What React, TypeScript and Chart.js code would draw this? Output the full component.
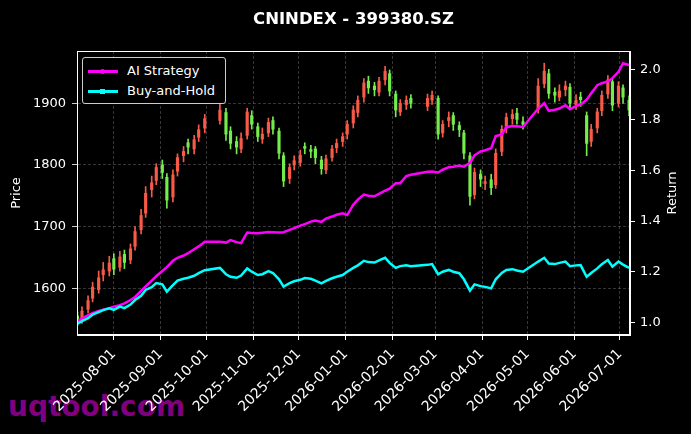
import React, { useEffect, useRef } from "react";
import { Chart, registerables } from "chart.js";

Chart.register(...registerables);

// trading days sampled (Tue / Fri), holidays left out
const dates = [
  "2025-07-08", "2025-07-11", "2025-07-15", "2025-07-18", "2025-07-22", "2025-07-25", "2025-07-29",
  "2025-08-01", "2025-08-05", "2025-08-08", "2025-08-12", "2025-08-15", "2025-08-19", "2025-08-22", "2025-08-26", "2025-08-29",
  "2025-09-02", "2025-09-05", "2025-09-09", "2025-09-12", "2025-09-16", "2025-09-19", "2025-09-23", "2025-09-26", "2025-09-30",
  "2025-10-10", "2025-10-14", "2025-10-17", "2025-10-21", "2025-10-24", "2025-10-28", "2025-10-31",
  "2025-11-04", "2025-11-07", "2025-11-11", "2025-11-14", "2025-11-18", "2025-11-21", "2025-11-25", "2025-11-28",
  "2025-12-02", "2025-12-05", "2025-12-09", "2025-12-12", "2025-12-16", "2025-12-19", "2025-12-23", "2025-12-26", "2025-12-30",
  "2026-01-02", "2026-01-06", "2026-01-09", "2026-01-13", "2026-01-16", "2026-01-20", "2026-01-23", "2026-01-27", "2026-01-30",
  "2026-02-03", "2026-02-06", "2026-02-10", "2026-02-13", "2026-02-24", "2026-02-27",
  "2026-03-03", "2026-03-06", "2026-03-10", "2026-03-13", "2026-03-17", "2026-03-20", "2026-03-24", "2026-03-27", "2026-03-31",
  "2026-04-03", "2026-04-07", "2026-04-10", "2026-04-14", "2026-04-17", "2026-04-21", "2026-04-24", "2026-04-28",
  "2026-05-08", "2026-05-12", "2026-05-15", "2026-05-19", "2026-05-22", "2026-05-26", "2026-05-29",
  "2026-06-02", "2026-06-05", "2026-06-09", "2026-06-12", "2026-06-16", "2026-06-19", "2026-06-23", "2026-06-26", "2026-06-30",
  "2026-07-03", "2026-07-07",
];

const opens = [
  1555, 1548, 1566, 1584, 1598, 1622, 1628, 1648, 1634, 1655,
  1646, 1668, 1695, 1722, 1760, 1775, 1800, 1780, 1748, 1790,
  1815, 1836, 1826, 1845, 1860, 1872, 1885, 1855, 1838, 1826,
  1848, 1880, 1862, 1842, 1852, 1872, 1855, 1815, 1778, 1800,
  1804, 1830, 1825, 1826, 1808, 1792, 1812, 1828, 1838, 1850,
  1868, 1885, 1910, 1936, 1928, 1918, 1938, 1948, 1915, 1886,
  1898, 1908, 1895, 1905, 1908, 1852, 1872, 1880, 1864, 1852,
  1815, 1752, 1785, 1770, 1776, 1768, 1822, 1860, 1875, 1884,
  1870, 1890, 1932, 1948, 1918, 1910, 1922, 1926, 1898, 1910,
  1880, 1838, 1860, 1888, 1915, 1935, 1900, 1925, 1905,
];
const highs = [
  1562, 1570, 1588, 1610, 1628, 1642, 1652, 1656, 1660, 1662,
  1672, 1700, 1728, 1765, 1782, 1802, 1808, 1786, 1792, 1818,
  1830, 1842, 1848, 1865, 1882, 1902, 1892, 1862, 1846, 1852,
  1892, 1888, 1868, 1860, 1876, 1878, 1860, 1820, 1802, 1815,
  1824, 1836, 1832, 1830, 1814, 1816, 1832, 1842, 1852, 1872,
  1896, 1912, 1940, 1944, 1934, 1942, 1960, 1954, 1920, 1906,
  1912, 1914, 1915, 1920, 1912, 1872, 1886, 1885, 1870, 1856,
  1820, 1795, 1792, 1782, 1785, 1826, 1864, 1884, 1890, 1892,
  1878, 1940, 1965, 1955, 1925, 1930, 1936, 1932, 1914, 1918,
  1886, 1866, 1892, 1920, 1945, 1940, 1935, 1930, 1912,
];
const lows = [
  1540, 1543, 1560, 1578, 1592, 1612, 1620, 1622, 1628, 1632,
  1640, 1662, 1688, 1715, 1748, 1768, 1778, 1730, 1740, 1782,
  1805, 1818, 1818, 1838, 1852, 1866, 1840, 1826, 1818, 1820,
  1842, 1858, 1838, 1835, 1846, 1850, 1810, 1765, 1770, 1792,
  1798, 1818, 1812, 1802, 1785, 1786, 1806, 1820, 1830, 1842,
  1860, 1878, 1902, 1916, 1912, 1912, 1930, 1912, 1878, 1880,
  1890, 1892, 1888, 1898, 1842, 1845, 1862, 1856, 1846, 1810,
  1735, 1745, 1765, 1760, 1752, 1762, 1815, 1852, 1866, 1866,
  1858, 1884, 1925, 1908, 1902, 1904, 1912, 1890, 1890, 1895,
  1815, 1830, 1852, 1880, 1908, 1888, 1894, 1900, 1880,
];
const closes = [
  1547, 1563, 1580, 1602, 1617, 1630, 1641, 1631, 1651, 1642,
  1664, 1692, 1718, 1754, 1771, 1796, 1788, 1743, 1784, 1812,
  1822, 1829, 1841, 1857, 1875, 1889, 1850, 1835, 1829, 1843,
  1886, 1866, 1846, 1850, 1869, 1858, 1819, 1774, 1796, 1807,
  1816, 1827, 1822, 1812, 1794, 1810, 1826, 1835, 1846, 1866,
  1889, 1905, 1933, 1925, 1922, 1936, 1952, 1920, 1889, 1900,
  1905, 1900, 1908, 1913, 1850, 1866, 1877, 1866, 1857, 1819,
  1749, 1788, 1777, 1773, 1763, 1819, 1858, 1877, 1882, 1874,
  1866, 1928, 1952, 1916, 1913, 1920, 1928, 1900, 1905, 1906,
  1835, 1858, 1886, 1913, 1938, 1897, 1928, 1910, 1889,
];

const aiStrategy = [
  1.005, 1.015, 1.028, 1.036, 1.045, 1.05, 1.056, 1.062, 1.068, 1.075,
  1.088, 1.1, 1.124, 1.142, 1.165, 1.182, 1.203, 1.218, 1.243, 1.255,
  1.264, 1.273, 1.289, 1.3, 1.318, 1.318, 1.315, 1.325, 1.317, 1.313,
  1.355, 1.353, 1.352, 1.354, 1.357, 1.356, 1.355, 1.356, 1.365, 1.372,
  1.382, 1.388, 1.398, 1.402, 1.397, 1.41, 1.418, 1.425, 1.431, 1.424,
  1.465, 1.485, 1.505, 1.5, 1.498, 1.508, 1.52, 1.528, 1.55, 1.55,
  1.578, 1.583, 1.595, 1.596, 1.592, 1.603, 1.613, 1.615, 1.62, 1.615,
  1.63, 1.66, 1.675, 1.68, 1.688, 1.736, 1.742, 1.771, 1.776, 1.775,
  1.772, 1.845, 1.866, 1.836, 1.84, 1.845, 1.858, 1.842, 1.855, 1.86,
  1.88, 1.905, 1.937, 1.945, 1.952, 1.965, 1.99, 2.024, 2.017,
];
const buyHold = [
  0.995, 1.005, 1.016, 1.03, 1.04, 1.048, 1.055, 1.049, 1.062, 1.056,
  1.07, 1.088, 1.105, 1.128, 1.139, 1.155, 1.15, 1.121, 1.147, 1.165,
  1.172, 1.176, 1.184, 1.194, 1.206, 1.215, 1.19, 1.18, 1.176, 1.185,
  1.213, 1.2, 1.187, 1.19, 1.202, 1.195, 1.17, 1.141, 1.155, 1.162,
  1.168, 1.175, 1.172, 1.165, 1.154, 1.164, 1.174, 1.18, 1.187, 1.2,
  1.215, 1.225, 1.243, 1.238, 1.236, 1.245, 1.255, 1.235, 1.215, 1.222,
  1.225, 1.222, 1.227, 1.23, 1.19, 1.2, 1.207, 1.2, 1.194, 1.17,
  1.125, 1.15, 1.143, 1.14, 1.134, 1.17, 1.195, 1.207, 1.21, 1.205,
  1.2, 1.24, 1.255, 1.232, 1.23, 1.235, 1.24, 1.222, 1.225, 1.226,
  1.18, 1.195, 1.213, 1.23, 1.246, 1.22, 1.24, 1.228, 1.215,
];

const monthTicks = [
  "2025-08-01", "2025-09-01", "2025-10-01", "2025-11-01", "2025-12-01", "2026-01-01",
  "2026-02-01", "2026-03-01", "2026-04-01", "2026-05-01", "2026-06-01", "2026-07-01",
];

const UP = "#f85a48";
const DOWN = "#74ec4c";
const FONT = "'DejaVu Sans', sans-serif";
const GRID = "rgba(150,150,150,0.45)";

const day = (s: string) => Date.parse(s + "T00:00:00Z") / 86400000;

// frame on all four sides, plus both axis titles turned the same way
const frame = {
  id: "frame",
  afterDraw(chart: any) {
    const { ctx, chartArea: a } = chart;
    ctx.save();
    ctx.strokeStyle = "#ffffff";
    ctx.lineWidth = 1;
    ctx.strokeRect(a.left + 0.5, a.top + 0.5, a.right - a.left - 1, a.bottom - a.top - 1);
    ctx.fillStyle = "#ffffff";
    ctx.font = "13px " + FONT;
    ctx.textAlign = "center";
    ctx.textBaseline = "middle";
    const cy = (a.top + a.bottom) / 2;
    for (const [text, cx] of [["Price", 17], ["Return", 673]] as [string, number][]) {
      ctx.save();
      ctx.translate(cx, cy);
      ctx.rotate(-Math.PI / 2);
      ctx.fillText(text, 0, 0);
      ctx.restore();
    }
    ctx.restore();
  },
};

const App: React.FC = () => {
  const canvasRef = useRef<HTMLCanvasElement | null>(null);

  useEffect(() => {
    document.body.style.margin = "0";
    document.body.style.background = "#000";
    if (!canvasRef.current) return;

    const xs = dates.map(day);
    const colors = closes.map((c, i) => (c >= opens[i] ? UP : DOWN));

    const chart = new Chart(canvasRef.current, {
      type: "bar",
      data: {
        datasets: [
          {
            type: "line",
            label: "Buy-and-Hold",
            data: xs.map((x, i) => ({ x, y: buyHold[i] })),
            yAxisID: "y1",
            borderColor: "#00ffff",
            borderWidth: 2.5,
            pointRadius: 0,
            order: 0,
          },
          {
            type: "line",
            label: "AI Strategy",
            data: xs.map((x, i) => ({ x, y: aiStrategy[i] })),
            yAxisID: "y1",
            borderColor: "#ff00ff",
            borderWidth: 2.5,
            pointRadius: 0,
            order: 1,
          },
          {
            type: "bar",
            label: "body",
            data: xs.map((x, i) => ({ x, y: [opens[i], closes[i]] })) as any,
            yAxisID: "y",
            backgroundColor: colors,
            barThickness: 2.5,
            grouped: false,
            order: 2,
          },
          {
            type: "bar",
            label: "wick",
            data: xs.map((x, i) => ({ x, y: [lows[i], highs[i]] })) as any,
            yAxisID: "y",
            backgroundColor: colors,
            barThickness: 1,
            grouped: false,
            order: 3,
          },
        ],
      },
      options: {
        animation: false,
        responsive: false,
        layout: { padding: { top: 51, left: 0, right: 0, bottom: 0 } },
        font: { family: FONT },
        plugins: {
          legend: { display: false },
          tooltip: { enabled: false },
        },
        scales: {
          x: {
            type: "linear",
            min: day("2025-07-08") - 0.3,
            max: day("2026-07-07") + 0.6,
            offset: false,
            grid: {
              offset: false,
              color: GRID,
              lineWidth: 0.8,
              tickLength: 5,
              tickColor: "#ffffff",
              tickWidth: 1,
            },
            border: { color: "#ffffff", width: 1, dash: [3, 2] },
            ticks: {
              color: "#ffffff",
              font: { family: FONT, size: 14 },
              autoSkip: false,
              minRotation: 45,
              maxRotation: 45,
              padding: 6,
              callback: (v: any) => new Date(Number(v) * 86400000).toISOString().slice(0, 10),
            },
            afterBuildTicks: (s: any) => {
              s.ticks = monthTicks.map((m) => ({ value: day(m) }));
            },
            afterFit: (s: any) => {
              s.height = 99;
            },
          },
          y: {
            position: "left",
            min: 1524.3,
            max: 1984.8,
            grid: {
              color: GRID,
              lineWidth: 0.8,
              tickLength: 5,
              tickColor: "#ffffff",
            },
            border: { color: "#ffffff", width: 1, dash: [3, 2] },
            ticks: {
              stepSize: 100,
              includeBounds: false,
              color: "#ffffff",
              font: { family: FONT, size: 13 },
              padding: 6,
              callback: (v: any) => String(v),
            },
            afterFit: (s: any) => {
              s.width = 77;
            },
          },
          y1: {
            position: "right",
            min: 0.9498,
            max: 2.0723,
            grid: { drawOnChartArea: false, tickLength: 5, tickColor: "#ffffff" },
            border: { color: "#ffffff", width: 1 },
            ticks: {
              stepSize: 0.2,
              includeBounds: false,
              color: "#ffffff",
              font: { family: FONT, size: 13 },
              padding: 5,
              callback: (v: any) => Number(v).toFixed(1),
            },
            afterFit: (s: any) => {
              s.width = 61;
            },
          },
        },
      },
      plugins: [frame],
    });

    return () => chart.destroy();
  }, []);

  return (
    <div style={{ position: "relative", width: 691, height: 434, background: "#000", overflow: "hidden", fontFamily: FONT }}>
      <div
        style={{
          position: "absolute",
          left: 8,
          top: 393,
          fontSize: 28,
          lineHeight: "28px",
          fontWeight: "bold",
          color: "#800080",
          zIndex: 0,
        }}
      >
        uqtool.com
      </div>
      <canvas ref={canvasRef} width={691} height={434} style={{ position: "relative", zIndex: 1, display: "block" }} />
      <div
        style={{
          position: "absolute",
          left: 77,
          width: 553,
          top: 10,
          fontSize: 16.5,
          lineHeight: "17px",
          fontWeight: "bold",
          color: "#fff",
          textAlign: "center",
          zIndex: 2,
        }}
      >
        CNINDEX - 399380.SZ
      </div>
      <div
        style={{
          position: "absolute",
          left: 82,
          top: 57,
          width: 144,
          height: 47,
          boxSizing: "border-box",
          border: "1px solid #cccccc",
          borderRadius: 3,
          background: "#000",
          zIndex: 2,
        }}
      >
        {[
          { label: "AI Strategy", color: "#ff00ff", round: true, cy: 13 },
          { label: "Buy-and-Hold", color: "#00ffff", round: false, cy: 33 },
        ].map((it) => (
          <div key={it.label}>
            <div style={{ position: "absolute", left: 5, top: it.cy - 1, width: 30, height: 2.5, background: it.color }} />
            <div
              style={{
                position: "absolute",
                left: 17,
                top: it.cy - 2.5,
                width: 5,
                height: 5,
                background: it.color,
                borderRadius: it.round ? "50%" : 0,
              }}
            />
            <div
              style={{
                position: "absolute",
                left: 44,
                top: it.cy - 8,
                fontSize: 13,
                lineHeight: "16px",
                color: "#fff",
                whiteSpace: "nowrap",
              }}
            >
              {it.label}
            </div>
          </div>
        ))}
      </div>
    </div>
  );
};

export default App;
